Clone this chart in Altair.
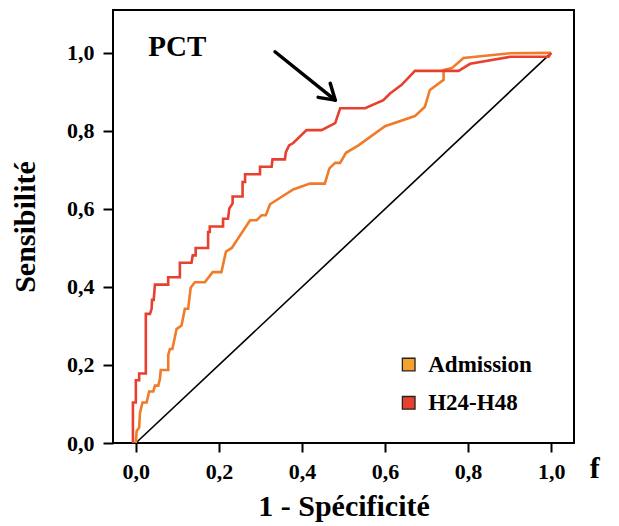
import altair as alt
import pandas as pd

# ---- data ----
series_names = ["Admission", "H24-H48"]
line_colors = ["#f07b28", "#e8402f"]
legend_colors = ["#f4a22c", "#e8402f"]

red_x = [-0.007, -0.007, 0.0, 0.0, 0.008, 0.008, 0.024, 0.024, 0.034, 0.038, 0.039, 0.043,
         0.046, 0.078, 0.078, 0.106, 0.106, 0.134, 0.137, 0.144, 0.144, 0.174, 0.174, 0.178,
         0.178, 0.210, 0.210, 0.222, 0.225, 0.233, 0.233, 0.257, 0.257, 0.263, 0.263, 0.299,
         0.299, 0.327, 0.329, 0.359, 0.361, 0.369, 0.379, 0.411, 0.447, 0.480, 0.492, 0.552,
         0.596, 0.612, 0.640, 0.672, 0.777, 0.805, 0.901, 0.994, 1.0]
red_y = [0.0, 0.104, 0.104, 0.161, 0.161, 0.178, 0.178, 0.331, 0.331, 0.344, 0.367, 0.367,
         0.406, 0.406, 0.425, 0.425, 0.462, 0.462, 0.481, 0.481, 0.500, 0.500, 0.541, 0.541,
         0.555, 0.555, 0.575, 0.575, 0.601, 0.614, 0.632, 0.632, 0.669, 0.669, 0.689, 0.689,
         0.708, 0.708, 0.727, 0.727, 0.745, 0.763, 0.769, 0.802, 0.802, 0.820, 0.858, 0.858,
         0.879, 0.896, 0.918, 0.954, 0.954, 0.972, 0.990, 0.990, 1.0]

orange_x = [0.0, 0.002, 0.008, 0.010, 0.016, 0.026, 0.032, 0.042, 0.046, 0.054, 0.058, 0.060,
            0.078, 0.078, 0.082, 0.088, 0.098, 0.110, 0.118, 0.126, 0.132, 0.142, 0.166, 0.185,
            0.206, 0.217, 0.231, 0.275, 0.291, 0.303, 0.313, 0.323, 0.379, 0.419, 0.455, 0.466,
            0.480, 0.492, 0.506, 0.536, 0.600, 0.672, 0.696, 0.708, 0.741, 0.741, 0.761, 0.789,
            0.901, 1.0]
orange_y = [0.0, 0.031, 0.039, 0.078, 0.104, 0.104, 0.132, 0.132, 0.147, 0.147, 0.164, 0.187,
            0.187, 0.226, 0.241, 0.241, 0.292, 0.301, 0.344, 0.344, 0.398, 0.412, 0.412, 0.438,
            0.438, 0.491, 0.500, 0.571, 0.571, 0.584, 0.584, 0.612, 0.650, 0.665, 0.665, 0.704,
            0.718, 0.718, 0.744, 0.763, 0.812, 0.838, 0.862, 0.905, 0.931, 0.956, 0.961, 0.987,
            0.999, 1.0]

x_ticks = [0.0, 0.2, 0.4, 0.6, 0.8, 1.0]
y_ticks = [0.0, 0.2, 0.4, 0.6, 0.8, 1.0]

diag_x = [0.0, 1.0]
diag_y = [0.0, 1.0]

# arrow segments: shaft + two wings (x, y, x2, y2)
arrow_x = [0.335, 0.480, 0.480]
arrow_y = [1.003, 0.879, 0.879]
arrow_x2 = [0.480, 0.439, 0.468]
arrow_y2 = [0.879, 0.886, 0.922]

legend_x = [0.657, 0.657]
legend_y = [0.201, 0.103]
legend_text_x = 0.704

pct_pos = (0.100, 1.016)
f_pos = (1.105, -0.066)

FONT = "Liberation Serif"

# ---- build tables ----
rows = []
for i, (x, y) in enumerate(zip(orange_x, orange_y)):
    rows.append({"serie": "Admission", "x": x, "y": y, "i": i})
for i, (x, y) in enumerate(zip(red_x, red_y)):
    rows.append({"serie": "H24-H48", "x": x, "y": y, "i": i})
df = pd.DataFrame(rows)

diag_df = pd.DataFrame({"x": diag_x, "y": diag_y})
arrow_df = pd.DataFrame({"x": arrow_x, "y": arrow_y, "x2": arrow_x2, "y2": arrow_y2})
leg_df = pd.DataFrame({"serie": series_names, "x": legend_x, "y": legend_y,
                       "tx": [legend_text_x] * 2, "fill": legend_colors})
ann_df = pd.DataFrame({"label": ["PCT", "f"], "x": [pct_pos[0], f_pos[0]],
                       "y": [pct_pos[1], f_pos[1]], "size": [29, 30]})

xs = alt.Scale(domain=[-0.055, 1.055], nice=False, zero=False)
ys = alt.Scale(domain=[0, 1.11], nice=False, zero=False)

label_expr = "replace(format(datum.value, '.1f'), '.', ',')"

x_axis = alt.Axis(values=x_ticks, labelExpr=label_expr, title="1 - Spécificité",
                  domain=False, grid=False, ticks=True, tickColor="black", tickWidth=2,
                  tickSize=9, labelFont=FONT, labelFontSize=22, labelFontWeight="bold",
                  labelColor="black", labelPadding=9, titleFont=FONT, titleFontSize=30,
                  titleFontWeight="bold", titleColor="black", titlePadding=9)
y_axis = alt.Axis(values=y_ticks, labelExpr=label_expr, title="Sensibilité",
                  domain=False, grid=False, ticks=True, tickColor="black", tickWidth=2,
                  tickSize=10, labelFont=FONT, labelFontSize=22, labelFontWeight="bold",
                  labelColor="black", labelPadding=9, titleFont=FONT, titleFontSize=30,
                  titleFontWeight="bold", titleColor="black", titlePadding=26)

base_x = alt.X("x:Q", scale=xs, axis=x_axis)
base_y = alt.Y("y:Q", scale=ys, axis=y_axis)

diag = alt.Chart(diag_df).mark_line(color="black", strokeWidth=1.6).encode(
    x=base_x, y=base_y)

lines = alt.Chart(df).mark_line(strokeWidth=2.6, clip=False).encode(
    x=alt.X("x:Q", scale=xs),
    y=alt.Y("y:Q", scale=ys),
    color=alt.Color("serie:N", scale=alt.Scale(domain=series_names, range=line_colors),
                    legend=None),
    order="i:Q",
)

arrow = alt.Chart(arrow_df).mark_rule(color="black", strokeWidth=3.5, strokeCap="round").encode(
    x=alt.X("x:Q", scale=xs), y=alt.Y("y:Q", scale=ys), x2="x2:Q", y2="y2:Q")

leg_sq = alt.Chart(leg_df).mark_square(size=160, opacity=1, stroke="#222222",
                                       strokeWidth=1.3).encode(
    x=alt.X("x:Q", scale=xs), y=alt.Y("y:Q", scale=ys),
    fill=alt.Fill("fill:N", scale=None))

leg_txt = alt.Chart(leg_df).mark_text(align="left", baseline="middle", font=FONT,
                                      fontSize=23, fontWeight="bold", color="black").encode(
    x=alt.X("tx:Q", scale=xs), y=alt.Y("y:Q", scale=ys), text="serie:N")

ann = alt.Chart(ann_df).mark_text(align="center", baseline="middle", font=FONT,
                                  fontWeight="bold", color="black").encode(
    x=alt.X("x:Q", scale=xs), y=alt.Y("y:Q", scale=ys), text="label:N",
    size=alt.Size("size:Q", scale=None, legend=None))

chart = alt.layer(diag, lines, arrow, leg_sq, leg_txt, ann).properties(
    width=461, height=433,
    autosize=alt.AutoSizeParams(type="none"),
    padding={"left": 113, "top": 10, "right": 45, "bottom": 83},
    background="white",
).configure_view(stroke="black", strokeWidth=2)

chart.save("out.html", embed_options={"renderer": "svg", "actions": False})
